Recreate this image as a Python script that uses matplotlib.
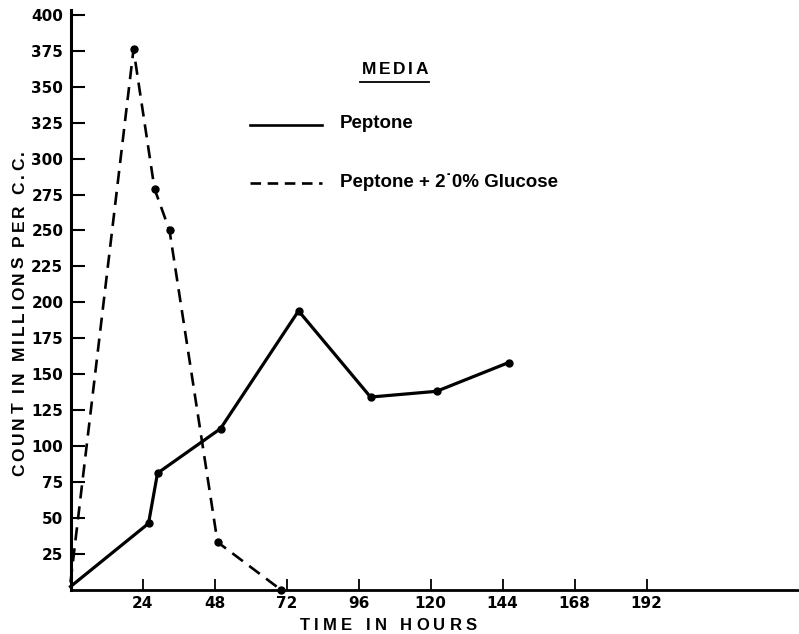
import matplotlib
matplotlib.use("Agg")
import matplotlib.pyplot as plt
from matplotlib.lines import Line2D
from matplotlib.transforms import IdentityTransform

plt.rcParams.update({'font.family': 'Liberation Sans', 'font.weight': 'bold'})

# Values
peptone_hours = [0, 26, 29, 50, 76, 100, 122, 146]
peptone_count = [2, 46, 81, 112, 194, 134, 138, 158]
glucose_hours = [0, 21, 28, 33, 49, 70]
glucose_count = [5, 376, 279, 250, 33, 0]

x_ticks = [24, 48, 72, 96, 120, 144, 168, 192]
y_ticks = list(range(25, 401, 25))

legend_labels = ["Peptone", "Peptone + 2\u02d90% Glucose"]

W, H = 799, 634


def tracked_text(fig, x, y, s, track, size, rotation=0):
    """Write text with extra letter spacing, centred on (x, y) in pixels
    (y measured from the bottom of the figure, on the baseline)."""
    renderer = fig.canvas.get_renderer()

    def width(txt):
        t = fig.text(0, 0, txt, fontsize=size, fontweight='bold')
        w = t.get_window_extent(renderer).width
        t.remove()
        return w

    space = width("I I") - width("II")
    widths = [space if ch == " " else width(ch) for ch in s]
    total = sum(widths) + track * (len(s) - 1)
    pos = -total / 2
    for ch, w in zip(s, widths):
        c = pos + w / 2
        if rotation == 90:
            px, py = x, y + c
        else:
            px, py = x + c, y
        fig.text(px, py, ch, fontsize=size, fontweight='bold',
                 rotation=rotation, rotation_mode='anchor', ha='center',
                 va='baseline', transform=IdentityTransform())
        pos += w + track


fig = plt.figure(figsize=(W / 100, H / 100), dpi=100)
ax = fig.add_axes([70.5 / W, 44.5 / H, (W - 70.5) / W, 579.5 / H])

ax.plot(peptone_hours, peptone_count, color='black', lw=2.3,
        marker='o', ms=5, markevery=range(1, len(peptone_hours)),
        clip_on=False)
ax.plot(glucose_hours, glucose_count, color='black', lw=1.9,
        dashes=(5, 3), marker='o', ms=5,
        markevery=range(1, len(glucose_hours)), clip_on=False)

ax.set_xlim(0, 242.8)
ax.set_ylim(0, 403.5)
ax.set_xticks(x_ticks)
ax.set_yticks(y_ticks)
ax.tick_params(axis='y', direction='in', length=10, width=1.5, pad=5.2)
ax.tick_params(axis='x', direction='in', length=8, width=1.3, pad=5.0)
for lab in ax.get_xticklabels() + ax.get_yticklabels():
    lab.set_fontfamily('DejaVu Sans')
    lab.set_fontweight('bold')
    lab.set_fontsize(11)

for side in ['top', 'right']:
    ax.spines[side].set_visible(False)
ax.spines['left'].set_linewidth(2.2)
ax.spines['bottom'].set_linewidth(2.0)

fig.canvas.draw()

# axis titles (letter-spaced like the original lettering)
tracked_text(fig, 388.5, H - 630, "TIME IN HOURS", 4.3, 12)
tracked_text(fig, 24, H - 313, "COUNT IN MILLIONS PER C.C.", 3.0, 12.5,
             rotation=90)

# legend block
tracked_text(fig, 395, H - 74, "MEDIA", 2.5, 12.5)
fig.add_artist(Line2D([360 / W, 429 / W], [1 - 82 / H, 1 - 82 / H],
                      color='black', lw=1.3))
fig.add_artist(Line2D([250 / W, 322 / W], [1 - 125 / H, 1 - 125 / H],
                      color='black', lw=1.9))
fig.add_artist(Line2D([250 / W, 322 / W], [1 - 183 / H, 1 - 183 / H],
                      color='black', lw=1.9, dashes=(4, 2.5)))
fig.text(340 / W, 1 - 123 / H, legend_labels[0], ha='left', va='center',
         fontsize=13.5, fontweight='bold')
fig.text(340 / W, 1 - 182 / H, legend_labels[1], ha='left', va='center',
         fontsize=13.5, fontweight='bold')

fig.savefig("out.png", dpi=100)
